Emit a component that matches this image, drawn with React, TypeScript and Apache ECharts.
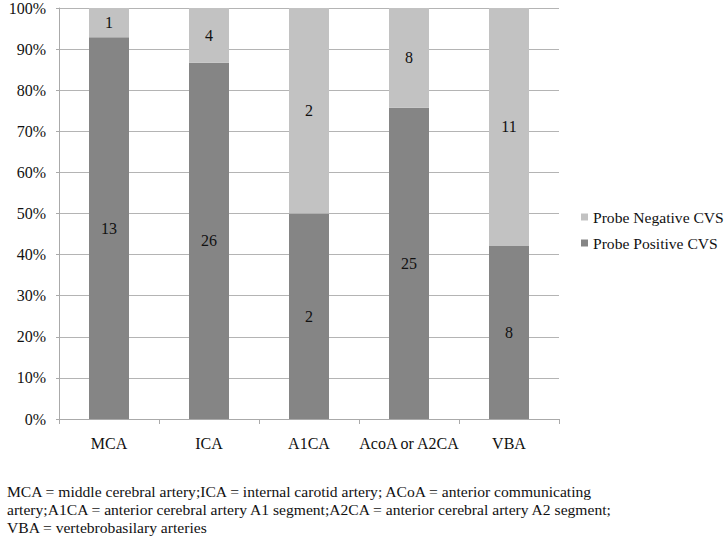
import React, { useEffect, useRef } from "react";
import * as echarts from "echarts";

const categories = ["MCA", "ICA", "A1CA", "AcoA or A2CA", "VBA"];
const positiveCounts = [13, 26, 2, 25, 8];
const negativeCounts = [1, 4, 2, 8, 11];
const yTicks = [0, 10, 20, 30, 40, 50, 60, 70, 80, 90, 100];
const captionLines = [
  "MCA = middle cerebral artery;ICA = internal carotid artery; ACoA = anterior communicating",
  "artery;A1CA = anterior cerebral artery A1 segment;A2CA = anterior cerebral artery A2 segment;",
  "VBA = vertebrobasilary arteries",
];

const FONT = "'Liberation Serif', 'Times New Roman', serif";

export default function App() {
  const ref = useRef<HTMLDivElement>(null);
  useEffect(() => {
    document.body.style.margin = "0";
    if (!ref.current) return;
    const chart = echarts.init(ref.current, undefined, { renderer: "svg" });
    const totals = positiveCounts.map((p, i) => p + negativeCounts[i]);
    const posPct = positiveCounts.map((p, i) => ({ value: (p / totals[i]) * 100, count: p }));
    const negPct = negativeCounts.map((n, i) => ({ value: (n / totals[i]) * 100, count: n }));
    const labelCfg = {
      show: true,
      position: "inside" as const,
      color: "#111",
      textBorderWidth: 0,
      fontFamily: FONT,
      fontSize: 16,
      formatter: (p: any) => String(p.data.count),
    };
    chart.setOption({
      animation: false,
      backgroundColor: "#fff",
      textStyle: { fontFamily: FONT },
      grid: { left: 59, top: 8, width: 500, height: 411, containLabel: false },
      legend: {
        orient: "vertical",
        left: 581,
        top: 209,
        padding: 0,
        itemWidth: 7,
        itemHeight: 7,
        itemGap: 10,
        icon: "rect",
        data: ["Probe Negative CVS", "Probe Positive CVS"],
        textStyle: { fontFamily: FONT, fontSize: 15.6, color: "#111" },
      },
      xAxis: {
        type: "category",
        data: categories,
        axisLine: { lineStyle: { color: "#aaa", width: 1 } },
        axisTick: { show: true, alignWithLabel: false, length: 5, lineStyle: { color: "#aaa" } },
        axisLabel: { interval: 0, color: "#111", fontFamily: FONT, fontSize: 16, margin: 16 },
      },
      yAxis: {
        type: "value",
        min: 0,
        max: 100,
        interval: 10,
        axisLine: { show: true, lineStyle: { color: "#aaa" } },
        axisTick: { show: true, length: 3, lineStyle: { color: "#aaa" } },
        splitLine: { lineStyle: { color: "#b4b4b4", width: 1 } },
        axisLabel: {
          color: "#111",
          fontFamily: FONT,
          fontSize: 16,
          margin: 13,
          formatter: (v: number) => (yTicks.includes(v) ? v + "%" : ""),
        },
      },
      series: [
        {
          name: "Probe Positive CVS",
          type: "bar",
          stack: "all",
          barWidth: "40%",
          data: posPct,
          itemStyle: { color: "#858585" },
          label: labelCfg,
        },
        {
          name: "Probe Negative CVS",
          type: "bar",
          stack: "all",
          barWidth: "40%",
          data: negPct,
          itemStyle: { color: "#c2c2c2" },
          label: labelCfg,
        },
      ],
      graphic: captionLines.map((t, i) => ({
        type: "text",
        left: 7,
        top: 483 + i * 18,
        style: { text: t, font: `15.6px ${FONT}`, fill: "#111" },
      })),
    });
    return () => chart.dispose();
  }, []);
  return <div ref={ref} style={{ width: 726, height: 543 }} />;
}
